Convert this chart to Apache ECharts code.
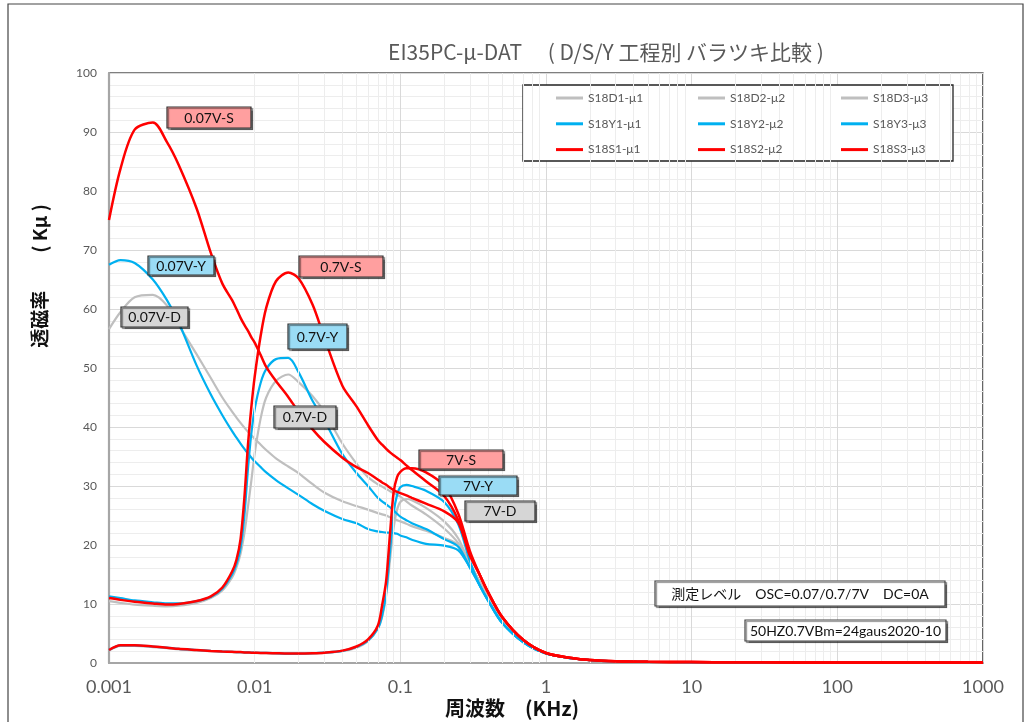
<!DOCTYPE html>
<html>
<head>
<meta charset="utf-8">
<script src="https://cdn.jsdelivr.net/npm/echarts@6/dist/echarts.min.js"></script>
<style>
html,body{margin:0;padding:0;background:#fff;}
#c{width:1034px;height:722px;}
</style>
</head>
<body>
<div id="c"></div>
<script>
// frequency samples (KHz)
const freqs = [0.001,0.0012,0.0015,0.002,0.0025,0.003,0.004,0.005,0.006,0.007,0.0075,0.008,0.0085,0.009,0.0095,0.01,0.011,0.012,0.014,0.017,0.02,0.025,0.03,0.04,0.05,0.06,0.07,0.075,0.08,0.085,0.09,0.095,0.1,0.11,0.12,0.15,0.2,0.25,0.3,0.35,0.4,0.5,0.7,1,1.5,2,3,5,10,20,50,100,200,500,1000];

// D process (gray)
const d1 = [56.6,59.5,62,62.4,60.6,57.3,52.3,48.3,45,42.6,41.6,40.7,39.9,39.2,38.6,38,37,36.1,34.7,33.3,32.2,30.3,28.9,27.4,26.6,26,25.4,25.2,25,24.7,24.5,24.2,24,23.6,23.2,22.4,21.2,20,16.8,13.8,11,7.2,3.6,1.6,0.8,0.5,0.3,0.2,0.15,0.12,0.1,0.1,0.08,0.08,0.08];
const d2 = [10.5,10.2,9.9,9.7,9.6,9.7,10.2,11,12.3,14.5,16.2,18.5,22,26.5,31,35.5,41.5,45,47.8,48.9,47.6,45.2,42.6,37.2,33.8,31.5,30.3,29.9,29.5,29.1,28.8,28.5,28.2,27.4,26.7,25.2,22.8,20.3,16.8,13.8,11,7.2,3.6,1.6,0.8,0.5,0.3,0.2,0.15,0.12,0.1,0.1,0.08,0.08,0.08];
const d3 = [2.1,2.9,2.9,2.7,2.5,2.3,2.1,2,1.9,1.85,1.8,1.8,1.75,1.75,1.7,1.7,1.65,1.65,1.6,1.55,1.55,1.6,1.7,2,2.6,3.7,5.8,7.8,11.5,17.5,23,26,27.3,27.8,27.6,26.3,24,21.1,16.8,13.8,11,7.2,3.6,1.6,0.8,0.5,0.3,0.2,0.15,0.12,0.1,0.1,0.08,0.08,0.08];
// Y process (blue)
const y1 = [67.5,68.3,67.8,65,61.5,57.8,50.4,45.5,42,39.3,38.2,37.2,36.3,35.5,34.8,34.2,33.2,32.3,31,29.6,28.5,26.9,25.8,24.4,23.7,22.7,22.3,22.2,22.1,22.1,22,21.9,21.6,21.3,20.9,20.2,19.9,19.1,16.2,13.2,10.6,6.8,3.5,1.6,0.8,0.5,0.3,0.2,0.15,0.12,0.1,0.1,0.08,0.08,0.08];
const y2 = [11.3,11,10.6,10.3,10.1,10.1,10.5,11.2,12.6,15,16.8,19.5,25,33,39,43,47.5,49.8,51.5,51.7,49.3,44.4,41.2,35.4,32.2,30,28,27.4,26.9,26.4,25.9,25.3,24.8,24.2,23.7,22.7,21,19.7,16.2,13.2,10.6,6.8,3.5,1.6,0.8,0.5,0.3,0.2,0.15,0.12,0.1,0.1,0.08,0.08,0.08];
const y3 = [2.2,3,3,2.8,2.6,2.4,2.2,2.05,1.95,1.9,1.85,1.85,1.8,1.8,1.75,1.75,1.7,1.7,1.65,1.6,1.6,1.65,1.75,2.05,2.7,3.8,5.8,8,12,19,25.5,28.5,29.8,30.2,30,29.2,27.3,23.5,17.3,13.2,10.6,6.8,3.5,1.6,0.8,0.5,0.3,0.2,0.15,0.12,0.1,0.1,0.08,0.08,0.08];
// S process (red)
const s1 = [75.1,83.8,90.4,91.6,88.3,84.5,77,69.5,64.3,61.5,60,58.5,57.3,56.3,55.2,54.3,52.2,50.2,47.8,45.1,42.6,39.6,37.5,34.8,33.2,32.2,31.1,30.6,30.2,29.7,29.3,29,28.8,28.4,28,27,25.7,23.8,18.2,15,12,7.8,3.9,1.7,0.85,0.5,0.3,0.2,0.15,0.12,0.1,0.1,0.08,0.08,0.08];
const s2 = [11,10.7,10.4,10.1,9.9,10,10.5,11.3,12.8,15.5,17.5,21,28,37,43.5,48.5,55.5,60.2,64.7,66.2,65.2,60.7,55.2,47,43.5,40.3,37.8,37,36.3,35.7,35.2,34.8,34.4,33.5,32.7,30.8,28.3,24.2,18.5,15,12,7.8,3.9,1.7,0.85,0.5,0.3,0.2,0.15,0.12,0.1,0.1,0.08,0.08,0.08];
const s3 = [2.2,3,3,2.8,2.6,2.4,2.2,2.05,1.95,1.9,1.85,1.85,1.8,1.8,1.75,1.75,1.7,1.7,1.65,1.6,1.6,1.65,1.75,2.1,2.8,4,6.3,9.8,14,22,29,31.5,32.4,33,33,32.3,30,25.3,19,15,12,7.8,3.9,1.7,0.85,0.5,0.3,0.2,0.15,0.12,0.1,0.1,0.08,0.08,0.08];

const seriesNames = ['S18D1-μ1','S18D2-μ2','S18D3-μ3','S18Y1-μ1','S18Y2-μ2','S18Y3-μ3','S18S1-μ1','S18S2-μ2','S18S3-μ3'];
const seriesValues = [d1,d2,d3,y1,y2,y3,s1,s2,s3];
const seriesColors = ['#BFBFBF','#BFBFBF','#BFBFBF','#00B0F0','#00B0F0','#00B0F0','#FF0000','#FF0000','#FF0000'];
const xTickLabels = ['0.001','0.01','0.1','1','10','100','1000'];

const titleText = 'EI35PC-μ-DAT　 ( D/S/Y 工程別 バラツキ比較 )';
const yName = '透磁率　　( Kμ )';
const xName = '周波数　(KHz)';
const noteText1 = '測定レベル　OSC=0.07/0.7/7V　DC=0A';
const noteText2 = '50HZ0.7VBm=24gaus2020-10';

// minor log grid values
const minorX = [];
for (let e = -3; e < 3; e++) for (let m = 2; m <= 9; m++) minorX.push(+(m * Math.pow(10, e)).toPrecision(3));

const chart = echarts.init(document.getElementById('c'), null, {renderer: 'canvas'});

const series = seriesNames.map((n, i) => ({
  name: n, type: 'line', symbol: 'none', showSymbol: false,
  smooth: 0.3,
  data: freqs.map((f, k) => [f, seriesValues[i][k]]),
  lineStyle: {color: seriesColors[i], width: i >= 6 ? 2.5 : 2.2},
  itemStyle: {color: seriesColors[i]},
  z: 3 + Math.floor(i / 3)
}));
series.unshift({
  type: 'line', data: [], silent: true, z: 1,
  markLine: {silent: true, symbol: 'none', animation: false, label: {show: false},
    lineStyle: {color: '#EDEDED', width: 1, type: 'solid'},
    data: minorX.map(v => ({xAxis: v}))}
});

function box(x0, y0, x1, y1, fill, txt, fs, stroke) {
  return {type: 'group', z: 20, children: [
    {type: 'rect', z: 20, shape: {x: x0, y: y0, width: x1 - x0, height: y1 - y0},
      style: {fill: fill, stroke: stroke || '#333', lineWidth: 1.2,
        shadowColor: 'rgba(0,0,0,0.45)', shadowOffsetX: 1.5, shadowOffsetY: 1.5, shadowBlur: 1}},
    {type: 'text', z: 21, x: (x0 + x1) / 2, y: (y0 + y1) / 2 + 0.5,
      style: {text: txt, fill: '#111', font: fs + 'px Lato, "Noto Sans CJK JP"', textAlign: 'center', textVerticalAlign: 'middle'}}
  ]};
}
const cS = '#FF9F9F', cY = '#9ADCF5', cD = '#D6D6D6';

const legendBase = {orient: 'vertical', icon: 'rect', padding: 0, itemWidth: 27, itemHeight: 3, itemGap: 9.8, selectedMode: false,
  textStyle: {fontSize: 12, color: '#595959', fontFamily: 'Lato', lineHeight: 16}, z: 6};

chart.setOption({
  animation: false,
  backgroundColor: '#fff',
  grid: {left: 109, right: 51, top: 73, bottom: 59, show: true, borderColor: '#000', borderWidth: 1.2, backgroundColor: 'transparent'},
  legend: [
    Object.assign({}, legendBase, {left: 556, top: 90, data: [seriesNames[0], seriesNames[3], seriesNames[6]]}),
    Object.assign({}, legendBase, {left: 698, top: 90, data: [seriesNames[1], seriesNames[4], seriesNames[7]]}),
    Object.assign({}, legendBase, {left: 841, top: 90, data: [seriesNames[2], seriesNames[5], seriesNames[8]]})
  ],
  xAxis: {
    type: 'log', logBase: 10, min: 0.001, max: 1000,
    axisLine: {show: true, onZero: false, lineStyle: {color: '#A6A6A6', width: 2.2}},
    axisTick: {show: false},
    axisLabel: {color: '#595959', fontSize: 18, fontFamily: 'Lato', margin: 15,
      formatter: v => xTickLabels[Math.round(Math.log10(v)) + 3]},
    splitLine: {show: true, lineStyle: {color: '#D9D9D9', width: 1}}
  },
  yAxis: {
    type: 'value', min: 0, max: 100, interval: 10,
    axisLine: {show: true, lineStyle: {color: '#A6A6A6', width: 2.2}},
    axisTick: {show: false},
    axisLabel: {color: '#595959', fontSize: 12, fontFamily: 'Lato', margin: 12},
    splitLine: {show: true, lineStyle: {color: '#D9D9D9', width: 1}},
    minorTick: {show: false, splitNumber: 5},
    minorSplitLine: {show: true, lineStyle: {color: '#EDEDED', width: 1}}
  },
  series: series,
  graphic: [
    {type: 'rect', z: -1, silent: true, shape: {x: 8, y: 4, width: 1015, height: 740}, style: {fill: 'none', stroke: '#444', lineWidth: 1.2}},
    {type: 'text', x: 606, y: 52, z: 10, style: {text: titleText, fill: '#595959', font: '21px "Noto Sans CJK JP"', textAlign: 'center', textVerticalAlign: 'middle'}},
    {type: 'text', x: 40, y: 276, rotation: Math.PI / 2, z: 10, style: {text: yName, fill: '#111', font: 'bold 19px "Noto Sans CJK JP"', textAlign: 'center', textVerticalAlign: 'middle'}},
    {type: 'text', x: 512, y: 708, z: 10, style: {text: xName, fill: '#111', font: 'bold 20px "Noto Sans CJK JP"', textAlign: 'center', textVerticalAlign: 'middle'}},
    {type: 'rect', z: 5, shape: {x: 523, y: 85, width: 430, height: 76}, style: {fill: '#fff', stroke: '#222', lineWidth: 1.3}},
    box(167, 107, 251, 128, cS, '0.07V-S', 14),
    box(148, 256, 214, 275, cY, '0.07V-Y', 14),
    box(121, 307, 188, 327, cD, '0.07V-D', 14),
    box(299, 256, 383, 277, cS, '0.7V-S', 14),
    box(288, 324, 347, 349, cY, '0.7V-Y', 14),
    box(274, 406, 336, 428, cD, '0.7V-D', 14),
    box(419, 450, 503, 469, cS, '7V-S', 14),
    box(439, 476, 517, 495, cY, '7V-Y', 14),
    box(465, 501, 535, 521, cD, '7V-D', 14),
    box(655, 581, 945, 606, '#fff', noteText1, 14, '#444'),
    box(745, 620, 946, 641, '#fff', noteText2, 14, '#444')
  ]
});
</script>
</body>
</html>
